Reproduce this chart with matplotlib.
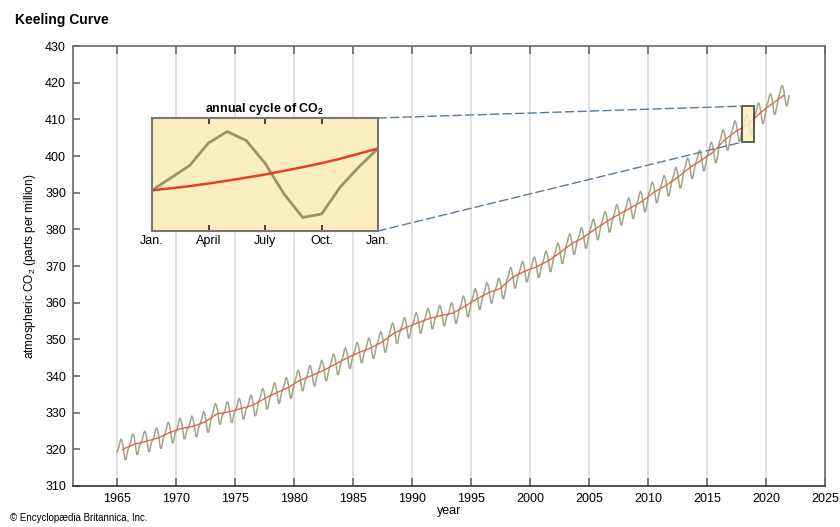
import numpy as np
import matplotlib.pyplot as plt
from matplotlib.patches import Rectangle, ConnectionPatch

plt.switch_backend('agg')
plt.rcParams['font.family'] = ['Liberation Sans', 'DejaVu Sans']
plt.rcParams['mathtext.fontset'] = 'custom'
plt.rcParams['mathtext.rm'] = 'Liberation Sans'
plt.rcParams['mathtext.bf'] = 'Liberation Sans:bold'

# annual mean CO2 at Mauna Loa (ppm)
years = list(range(1965, 2022))
annual_mean = [320.0, 321.4, 322.2, 323.1, 324.6, 325.7, 326.3, 327.5, 329.7, 330.2,
               331.1, 332.0, 333.8, 335.4, 336.8, 338.8, 340.1, 341.5, 343.2, 344.9,
               346.4, 347.6, 349.3, 351.7, 353.2, 354.5, 355.7, 356.5, 357.2, 359.0,
               361.0, 362.7, 363.9, 366.8, 368.5, 369.7, 371.3, 373.5, 376.0, 377.7,
               380.0, 382.1, 384.0, 385.8, 387.6, 390.1, 391.9, 394.1, 396.7, 398.8,
               401.0, 404.4, 406.8, 408.7, 411.7, 414.2, 416.5]
# monthly departure from the annual mean, Jan..Dec (ppm)
month_dev = [-0.7, 0.0, 0.9, 2.2, 2.8, 2.2, 0.9, -1.1, -2.8, -2.8, -1.4, -0.1]

# inset: one year of monthly values, Jan..Jan
inset_month = list(range(13))
inset_co2 = [407.6, 408.7, 409.8, 411.8, 412.8, 412.0, 410.0, 407.3, 405.2, 405.5, 407.9, 409.7, 411.3]
inset_trend = [407.6, 407.78, 407.97, 408.2, 408.45, 408.72, 409.0, 409.32, 409.65, 410.0, 410.4, 410.85, 411.3]
inset_ticks = [0, 3, 6, 9, 12]
inset_labels = ['Jan.', 'April', 'July', 'Oct.', 'Jan.']

x_ticks = list(range(1965, 2030, 5))
y_ticks = list(range(310, 440, 10))
zoom_box = (2018.0, 403.8, 1.0, 9.8)  # x, y, width, height

seasonal_color = '#a3a386'
trend_color = '#db6a48'
spine_color = '#6a6a6a'
pale_yellow = '#fcefbf'

t = (np.array(years)[:, None] + (np.arange(12)[None, :] + 0.5) / 12).ravel()
monthly = np.add.outer(np.array(annual_mean), np.array(month_dev)).ravel()

fig = plt.figure(figsize=(8.4, 5.27), dpi=100)
ax = fig.add_axes([0.0869, 0.0778, 0.8952, 0.8349])

for x in x_ticks[:-1]:
    ax.axvline(x, color='#dcdcdc', lw=1.2, zorder=0)

ax.plot(t, monthly, color=seasonal_color, lw=1.1, zorder=2)
ax.plot(np.array(years) + 0.5, annual_mean, color=trend_color, lw=1.0, zorder=3)

ax.add_patch(Rectangle(zoom_box[:2], zoom_box[2], zoom_box[3], facecolor=pale_yellow,
                       edgecolor='#222222', lw=1.2, alpha=0.85, zorder=4))

ax.set_xlim(1961.3, 2025)
ax.set_ylim(310, 430)
ax.set_xticks(x_ticks)
ax.set_yticks(y_ticks)
ax.tick_params(axis='x', direction='in', length=6, width=1.2, color=spine_color,
               top=True, labelsize=9, pad=5)
ax.tick_params(axis='y', direction='in', length=5, width=1.2, color=spine_color,
               labelsize=9, pad=5)
for s in ax.spines.values():
    s.set_color(spine_color)
    s.set_linewidth(1.2)
ax.spines['bottom'].set_color('#333333')
ax.set_xlabel('year', fontsize=9, labelpad=0)
ax.set_ylabel('atmospheric CO$_2$ (parts per million)', fontsize=8.5, labelpad=5)

# inset with one annual cycle
ins = fig.add_axes([0.181, 0.5617, 0.269, 0.2144])
ins.set_facecolor(pale_yellow)
ins.plot(inset_month, inset_co2, color='#9a9468', lw=2.0)
ins.plot(inset_month, inset_trend, color='#e0402c', lw=1.8)
ins.set_xlim(0, 12)
ins.set_ylim(404, 414)
ins.set_xticks(inset_ticks)
ins.set_xticklabels(inset_labels)
ins.set_yticks([])
ins.tick_params(axis='x', direction='in', length=4, width=1.2, color='#222222',
                top=True, labelsize=9, pad=3)
for s in ins.spines.values():
    s.set_color('#777777')
    s.set_linewidth(1.5)
ins.set_title(r'annual cycle of $\mathbf{CO_2}$', fontsize=9, fontweight='bold', pad=4)

for ins_y, box_y in [(1, zoom_box[1] + zoom_box[3]), (0, zoom_box[1])]:
    con = ConnectionPatch(xyA=(1, ins_y), coordsA=ins.transAxes,
                          xyB=(zoom_box[0], box_y), coordsB=ax.transData,
                          color='#5a7a98', lw=1.0, linestyle=(0, (6, 3)), zorder=5)
    fig.add_artist(con)

fig.text(0.018, 0.962, 'Keeling Curve', fontsize=10, fontweight='bold', va='center')
fig.text(0.012, 0.008, '© Encyclopædia Britannica, Inc.', fontsize=7, va='bottom')

fig.savefig('out.png', dpi=100)
plt.close('all')
